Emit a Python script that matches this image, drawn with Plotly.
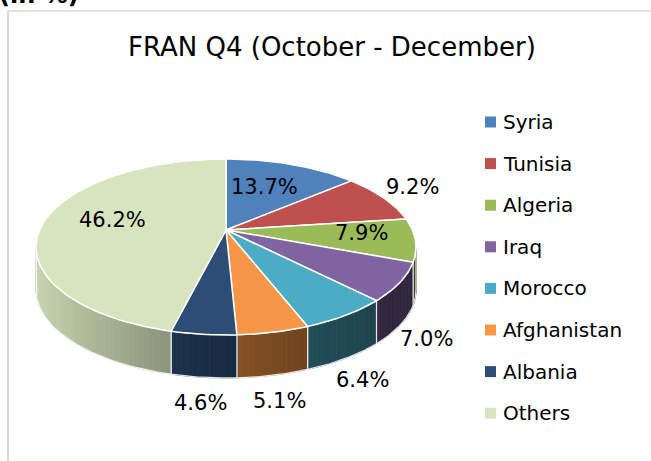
import numpy as np
import plotly.graph_objects as go

# ---------------- data ----------------
countries = ["Syria", "Tunisia", "Algeria", "Iraq", "Morocco", "Afghanistan", "Albania", "Others"]
shares = [13.7, 9.2, 7.9, 7.0, 6.4, 5.1, 4.6, 46.2]
colors = ["#4F81BD", "#C0504D", "#9BBB59", "#8064A2", "#4BACC6", "#F79646", "#2C4D75", "#D7E4BD"]
# label placement style: radius factor for labels drawn on the slice, None = outside
label_inside_r = [0.55, None, 0.72, None, None, None, None, 0.62]
title_text = "FRAN Q4 (October - December)"
units_text = "(in %)"

# ---------------- geometry (pixel space) ----------------
W, H = 651, 461
CX, CY = 226.0, 230.0      # pie apex
A, B, K = 186.4, 84.7, 0.193  # horizontal / vertical radius, perspective factor
DEPTH = 43.0
FONT = "DejaVu Sans"


def proj(phi, r=1.0):
    u = r * np.sin(phi)
    v = r * np.cos(phi)
    w = 1 + K * v
    return CX + A * u / w, CY - B * v / w


def hex_rgb(h):
    h = h.lstrip("#")
    return tuple(int(h[i:i + 2], 16) for i in (0, 2, 4))


def shade(hexcol, x):
    xmin, xmax = CX - A * 1.02, CX + A * 1.02
    t = min(max((x - xmin) / (xmax - xmin), 0), 1)
    f = 0.38 + 0.55 * (1 - t) ** 1.6
    r, g, b = hex_rgb(hexcol)
    return f"rgb({int(r * f)},{int(g * f)},{int(b * f)})"


total = sum(shares)
fracs = [s / total for s in shares]
bounds = np.concatenate([[0], np.cumsum(fracs)]) * 2 * np.pi

phiR = np.arccos(-K)
phiL = 2 * np.pi - phiR

fig = go.Figure()

# ---- side walls (front visible part), drawn in thin strips for shading ----
for i, col in enumerate(colors):
    p0, p1 = bounds[i], bounds[i + 1]
    a, b = max(p0, phiR), min(p1, phiL)
    if b <= a:
        continue
    n = max(2, int(np.degrees(b - a) / 1.5) + 1)
    ps = np.linspace(a, b, n + 1)
    for j in range(n):
        xa, ya = proj(ps[j])
        xb, yb = proj(ps[j + 1])
        c = shade(col, (xa + xb) / 2)
        fig.add_trace(go.Scatter(
            x=[xa, xb, xb, xa, xa], y=[ya, yb, yb + DEPTH, ya + DEPTH, ya],
            mode="lines", fill="toself", fillcolor=c,
            line=dict(color=c, width=0.8), hoverinfo="skip", showlegend=False))
    # outline of the wall
    pts = np.linspace(a, b, 80)
    xs, ys = proj(pts)
    ox = list(xs) + list(xs[::-1]) + [xs[0]]
    oy = list(ys) + list((ys + DEPTH)[::-1]) + [ys[0]]
    fig.add_trace(go.Scatter(x=ox, y=oy, mode="lines",
                             line=dict(color="rgba(255,255,255,0.85)", width=1.2),
                             hoverinfo="skip", showlegend=False))

# ---- top faces ----
for i, col in enumerate(colors):
    p0, p1 = bounds[i], bounds[i + 1]
    ps = np.linspace(p0, p1, max(3, int(np.degrees(p1 - p0)) + 2))
    xs, ys = proj(ps)
    fig.add_trace(go.Scatter(
        x=[CX] + list(xs) + [CX], y=[CY] + list(ys) + [CY],
        mode="lines", fill="toself", fillcolor=col,
        line=dict(color="white", width=1.5), name=countries[i],
        hoverinfo="skip", showlegend=False))

annotations = []

# ---- data labels ----
for i, s in enumerate(shares):
    mid = (bounds[i] + bounds[i + 1]) / 2
    r = label_inside_r[i]
    if r is not None:
        lx, ly = proj(mid, r)
        ly -= 4
    else:
        rx, ry = proj(mid)
        if np.cos(mid) < 0:
            ry += DEPTH
        lx = rx + 32 * np.sin(mid)
        ly = ry - 26 * np.cos(mid)
    annotations.append(dict(x=lx, y=ly, text=f"{s:.1f}%", showarrow=False,
                            xanchor="center", yanchor="middle",
                            font=dict(family=FONT, size=21, color="#000000")))

# ---- legend (manual) ----
LEG_X, LEG_Y0, LEG_DY = 490.5, 122.0, 41.6
leg_y = [LEG_Y0 + i * LEG_DY for i in range(len(countries))]
fig.add_trace(go.Scatter(x=[LEG_X] * len(countries), y=leg_y, mode="markers",
                         marker=dict(symbol="square", size=11, color=colors, line=dict(width=0)),
                         hoverinfo="skip", showlegend=False))
for name, yy in zip(countries, leg_y):
    annotations.append(dict(x=501, y=yy, text=name, showarrow=False,
                            xanchor="left", yanchor="middle",
                            font=dict(family=FONT, size=20, color="#000000")))

# ---- title and unit note ----
annotations.append(dict(x=332, y=47, text=title_text, showarrow=False,
                        xanchor="center", yanchor="middle",
                        font=dict(family=FONT, size=26, color="#000000")))
annotations.append(dict(x=0, xref="paper", xshift=-3, y=1 + 5.0 / H, yref="paper",
                        text=f"<b>{units_text}</b>",
                        showarrow=False, xanchor="left", yanchor="middle",
                        font=dict(family=FONT, size=24, color="#000000")))

shapes = [
    dict(type="line", x0=8, x1=8, y0=11, y1=H + 5, xref="x", yref="y",
         line=dict(color="#D9D9D9", width=2)),
    dict(type="line", x0=8, x1=W + 5, y0=11, y1=11, xref="x", yref="y",
         line=dict(color="#D9D9D9", width=1.5)),
]

fig.update_layout(
    width=W, height=H,
    margin=dict(l=0, r=0, t=0, b=0, pad=0),
    paper_bgcolor="white", plot_bgcolor="white",
    xaxis=dict(range=[0, W], visible=False, fixedrange=True),
    yaxis=dict(range=[H, 0], visible=False, fixedrange=True),
    annotations=annotations, shapes=shapes,
    showlegend=False, hovermode=False,
)

fig.write_html("out.html", config={"displayModeBar": False},
               post_script="document.body.style.margin='0';document.body.style.padding='0';")
